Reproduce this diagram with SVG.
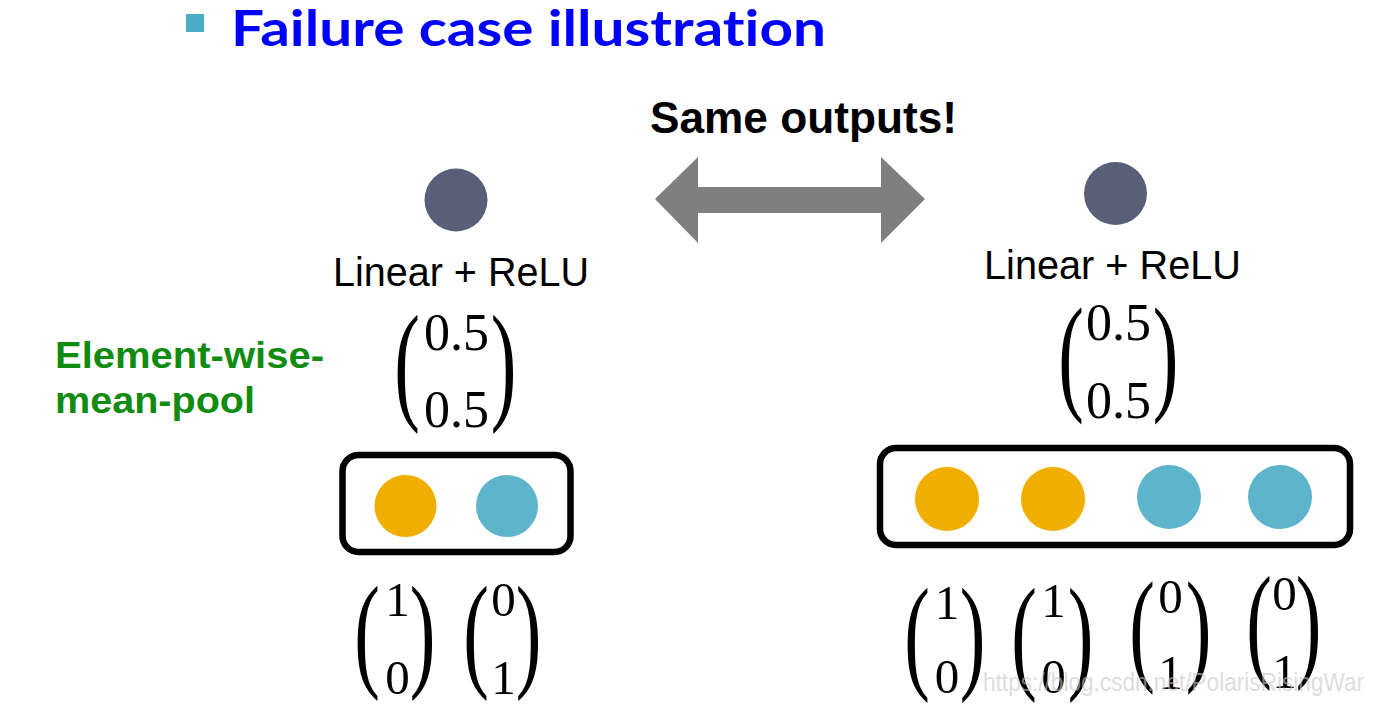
<svg xmlns="http://www.w3.org/2000/svg" width="1383" height="712" viewBox="0 0 1383 712">
<style>
.sans{font-family:"Liberation Sans",Arial,sans-serif}
.num{font-family:"Liberation Serif","Times New Roman",serif;font-size:49px;fill:#000;text-anchor:middle}
.num5{font-family:"Liberation Serif","Times New Roman",serif;font-size:52px;fill:#000;text-anchor:middle}
.par{font-family:"Liberation Serif","Times New Roman",serif;font-size:70px;fill:#000}
.dark{fill:#585F77}
.orange{fill:#F0AF00}
.blue{fill:#5EB4CB}
.box{fill:none;stroke:#000;stroke-width:6.5}
.lbl{font-size:41px;fill:#000}
.ttl{font-family:Lato,"Open Sans",sans-serif;font-weight:bold;font-size:50px;fill:#0000FF;font-variant-ligatures:none}
</style>
<rect width="1383" height="712" fill="#fff"/>
<g id="title">
<rect x="186" y="14" width="18" height="18" fill="#4BACC6"/>
<text class="ttl" x="231" y="46" textLength="595" lengthAdjust="spacingAndGlyphs">Failure case illustration</text>
</g>
<g id="same-outputs">
<text class="sans" x="650" y="133" font-size="45" font-weight="bold" fill="#000" textLength="307" lengthAdjust="spacingAndGlyphs">Same outputs!</text>
</g>
<g id="connectors">
<polygon points="655,199 698,157 698,187 881,187 881,157 925,199 881,243 881,213 698,213 698,243" fill="#7F7F7F"/>
</g>
<g id="pool-label">
<text class="sans" font-weight="bold" font-size="37" fill="#118C11"><tspan x="55" y="368" textLength="269" lengthAdjust="spacingAndGlyphs">Element-wise-</tspan><tspan x="55" y="413" textLength="200" lengthAdjust="spacingAndGlyphs">mean-pool</tspan></text>
</g>
<g id="left-output">
<circle class="dark" cx="456" cy="200" r="31.5"/>
<text class="sans lbl" x="333" y="286" textLength="256" lengthAdjust="spacingAndGlyphs">Linear + ReLU</text>
<text class="par" transform="translate(394.3,405.8) scale(1.1,1.875)">(</text>
<text class="par" transform="translate(490.8,405.8) scale(1.1,1.875)">)</text>
<text class="num5" x="456.5" y="350">0.5</text>
<text class="num5" x="456.5" y="427">0.5</text>
</g>
<g id="right-output">
<circle class="dark" cx="1115.5" cy="193.5" r="31.5"/>
<text class="sans lbl" x="984" y="279" textLength="257" lengthAdjust="spacingAndGlyphs">Linear + ReLU</text>
<text class="par" transform="translate(1058.3,397.2) scale(1.1,1.842)">(</text>
<text class="par" transform="translate(1152.8,397.2) scale(1.1,1.842)">)</text>
<text class="num5" x="1118.5" y="340">0.5</text>
<text class="num5" x="1118.5" y="418">0.5</text>
</g>
<g id="left-set">
<rect class="box" x="342.5" y="455" width="228" height="97" rx="16"/>
<circle class="orange" cx="405.5" cy="506" r="31"/>
<circle class="blue" cx="507" cy="506" r="31"/>
</g>
<g id="right-set">
<rect class="box" x="880" y="448" width="470" height="97" rx="16"/>
<circle class="orange" cx="947" cy="499" r="32"/>
<circle class="orange" cx="1053" cy="499" r="32"/>
<circle class="blue" cx="1169" cy="497" r="32"/>
<circle class="blue" cx="1280" cy="497" r="32"/>
</g>
<g id="left-vectors">
<text class="par" transform="translate(354.3,674.4) scale(1.1,1.825)">(</text>
<text class="par" transform="translate(409.8,674.4) scale(1.1,1.825)">)</text>
<text class="num" x="397.5" y="616">1</text>
<text class="num" x="397.5" y="694">0</text>
<text class="par" transform="translate(463.3,674.4) scale(1.1,1.825)">(</text>
<text class="par" transform="translate(515.8,674.4) scale(1.1,1.825)">)</text>
<text class="num" x="503.5" y="616">0</text>
<text class="num" x="503.5" y="694">1</text>
</g>
<g id="right-vectors">
<text class="par" transform="translate(904.3,675.6) scale(1.1,1.809)">(</text>
<text class="par" transform="translate(959.8,675.6) scale(1.1,1.809)">)</text>
<text class="num" x="947" y="619">1</text>
<text class="num" x="947" y="693">0</text>
<text class="par" transform="translate(1011.3,675.6) scale(1.1,1.809)">(</text>
<text class="par" transform="translate(1067.8,675.6) scale(1.1,1.809)">)</text>
<text class="num" x="1053.5" y="617">1</text>
<text class="num" x="1053.5" y="693">0</text>
<text class="par" transform="translate(1129.3,667.8) scale(1.1,1.792)">(</text>
<text class="par" transform="translate(1185.8,667.8) scale(1.1,1.792)">)</text>
<text class="num" x="1170.5" y="613">0</text>
<text class="num" x="1170.5" y="689">1</text>
<text class="par" transform="translate(1246.3,663.6) scale(1.1,1.809)">(</text>
<text class="par" transform="translate(1295.8,663.6) scale(1.1,1.809)">)</text>
<text class="num" x="1284.5" y="610">0</text>
<text class="num" x="1284.5" y="688">1</text>
</g>
<g id="watermark">
<text class="sans" x="983" y="691" font-size="25" fill="#C8C8C8" opacity="0.6" textLength="381" lengthAdjust="spacingAndGlyphs">https://blog.csdn.net/PolarisRisingWar</text>
</g>
</svg>
